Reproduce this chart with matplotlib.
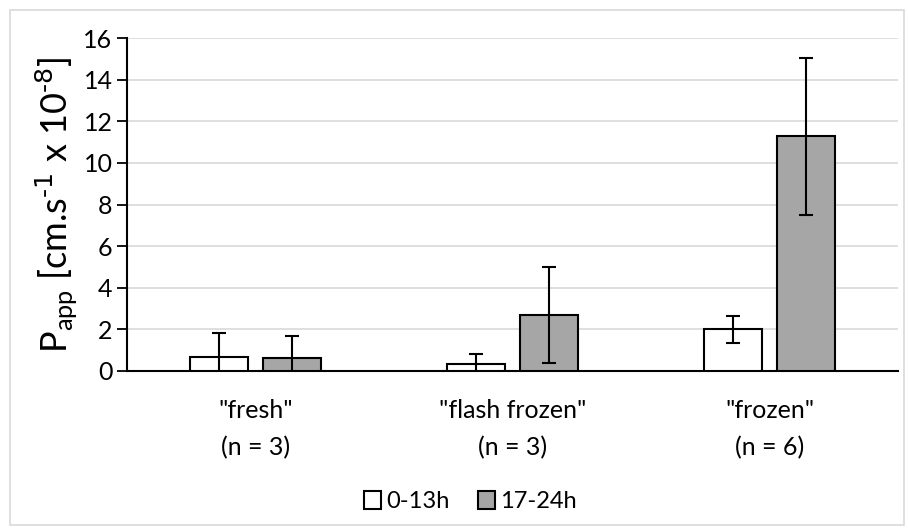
import matplotlib.pyplot as plt
import numpy as np
from matplotlib.patches import Rectangle

categories = ['"fresh"\n(n = 3)', '"flash frozen"\n(n = 3)', '"frozen"\n(n = 6)']
series_names = ["0-13h", "17-24h"]
early = [0.67, 0.34, 2.0]
early_err = [1.14, 0.48, 0.64]
late = [0.64, 2.69, 11.28]
late_err = [1.06, 2.3, 3.78]
yticks = [0, 2, 4, 6, 8, 10, 12, 14, 16]

plt.rcParams["font.family"] = ["Lato", "DejaVu Sans"]

fig = plt.figure(figsize=(9.08, 5.30), dpi=100)
ax = fig.add_axes([0.140, 0.300, 0.849, 0.628])

x = np.arange(len(categories))
width = 0.225
offset = 0.142
err_kw = dict(ecolor="black", elinewidth=1.5, capsize=5, capthick=1.5)
ax.bar(x - offset, early, width, yerr=early_err, color="white",
       edgecolor="black", linewidth=1.5, label=series_names[0],
       error_kw=err_kw, zorder=3)
ax.bar(x + offset, late, width, yerr=late_err, color="#a6a6a6",
       edgecolor="black", linewidth=1.5, label=series_names[1],
       error_kw=err_kw, zorder=3)

ax.set_xlim(-0.5, 2.5)
ax.set_ylim(0, 16)
ax.set_yticks(yticks)
ax.set_xticks(x)
ax.set_xticklabels(categories, fontsize=18, linespacing=1.75)
ax.tick_params(axis="x", length=0, pad=20)
ax.tick_params(axis="y", labelsize=18, direction="out", length=7, width=1.3)
ax.yaxis.grid(True, color="#d9d9d9", linewidth=1.2, zorder=0)
ax.set_axisbelow(True)
for side in ("top", "right"):
    ax.spines[side].set_visible(False)
ax.spines["left"].set_linewidth(1.5)
ax.spines["bottom"].set_linewidth(1.5)
ax.set_ylabel(r"P$_{\mathregular{app}}$ [cm.s$^{\text{-1}}$ x 10$^{\text{-8}}$]",
              fontsize=26, labelpad=3)

ax.legend(loc="center", bbox_to_anchor=(0.445, -0.393), ncol=2, frameon=False,
          fontsize=17, handlelength=0.75, handleheight=0.75, handletextpad=0.2,
          columnspacing=1.2)

fig.patches.append(Rectangle((0.011, 0.009), 0.985, 0.972, transform=fig.transFigure,
                             fill=False, edgecolor="#d9d9d9", linewidth=1.2))

fig.savefig("out.png", dpi=100)
